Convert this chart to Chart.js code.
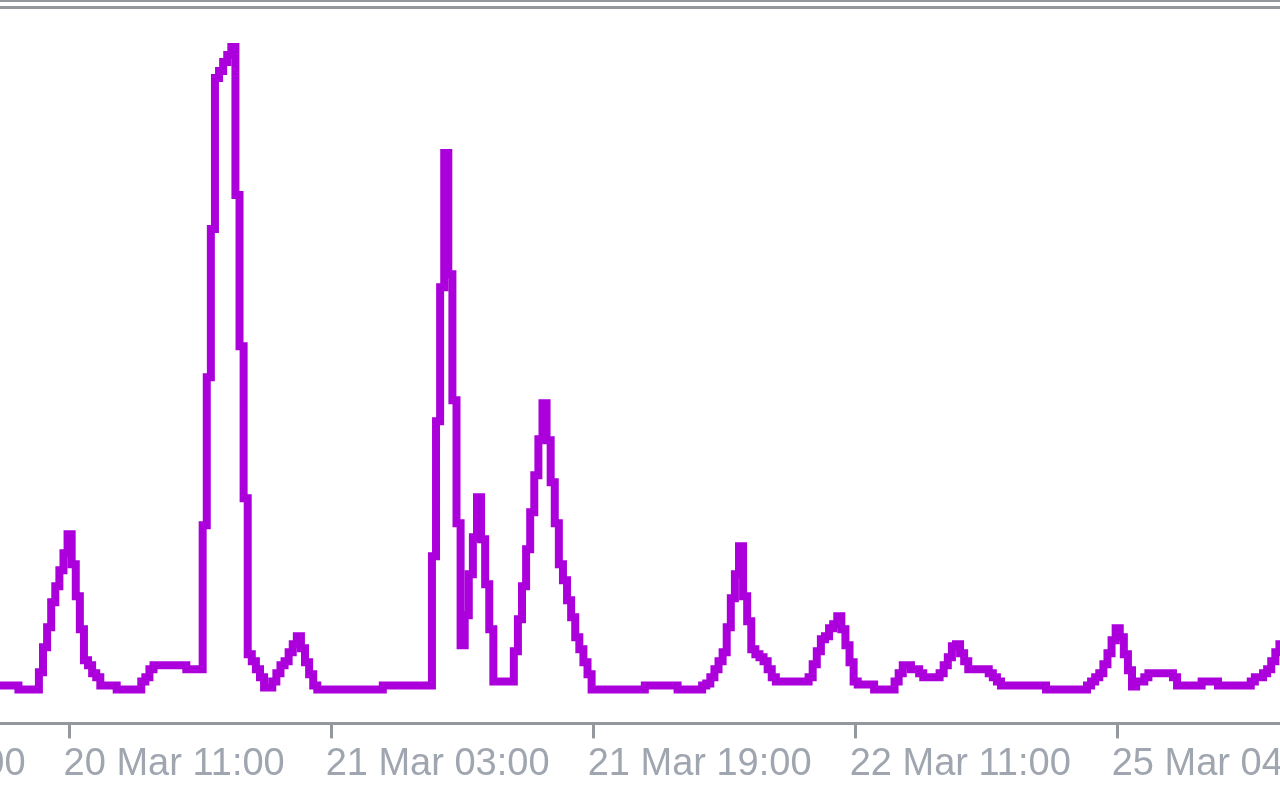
<!DOCTYPE html>
<html>
<head>
<meta charset="utf-8">
<script src="https://cdn.jsdelivr.net/npm/chart.js@4.4.1/dist/chart.umd.min.js"></script>
<style>
  html, body { margin: 0; padding: 0; background: #ffffff; }
  #frame { position: relative; width: 1280px; height: 800px; overflow: hidden; background: #ffffff; }
  #topline1 { position: absolute; left: 0; top: 0; width: 1280px; height: 2px; background: #94979c; }
  #topline2 { position: absolute; left: 0; top: 6px; width: 1280px; height: 3px; background: #94979c; }
  #wrap { position: absolute; left: -300px; top: 0; width: 1880px; height: 800px; }
</style>
</head>
<body>
<div id="frame">
  <div id="topline1"></div>
  <div id="topline2"></div>
  <div id="wrap"><canvas id="c" width="1880" height="800"></canvas></div>
</div>
<script>
// Indicator values, one per 15-minute bar (bar 0 = left edge of the view)
const values = [
  3.8,3.8,3.8,3.8,3.8,3.4,3.4,3.4,3.4,3.4,
  5.1,7.6,9.6,12.1,13.7,15.3,17.0,18.9,15.9,12.7,
  9.4,6.3,5.8,5.0,4.6,3.8,3.8,3.8,3.8,3.4,
  3.4,3.4,3.4,3.4,3.4,4.2,4.6,5.4,5.8,5.8,
  5.8,5.8,5.8,5.8,5.8,5.8,5.4,5.4,5.4,5.4,
  19.8,34.6,49.4,64.5,65.2,66.1,66.8,67.6,52.8,37.7,
  22.5,6.9,6.2,5.4,4.6,3.6,3.6,4.2,5.0,5.8,
  6.2,7.1,7.9,8.7,7.5,6.1,4.9,3.8,3.4,3.4,
  3.4,3.4,3.4,3.4,3.4,3.4,3.4,3.4,3.4,3.4,
  3.4,3.4,3.4,3.4,3.8,3.8,3.8,3.8,3.8,3.8,
  3.8,3.8,3.8,3.8,3.8,3.8,16.7,30.2,43.6,57.0,
  44.9,32.3,20.0,7.8,10.8,14.9,18.6,22.6,18.4,13.9,
  9.4,4.2,4.2,4.2,4.2,4.2,7.2,10.4,13.7,17.4,
  21.1,24.8,28.4,32.0,28.3,24.1,20.0,15.9,14.3,12.3,
  10.6,8.6,7.4,6.1,4.9,3.4,3.4,3.4,3.4,3.4,
  3.4,3.4,3.4,3.4,3.4,3.4,3.4,3.4,3.8,3.8,
  3.8,3.8,3.8,3.8,3.8,3.8,3.4,3.4,3.4,3.4,
  3.4,3.4,3.8,4.0,4.6,5.4,6.2,7.1,9.6,12.5,
  14.9,17.7,12.7,10.2,7.4,6.9,6.6,6.2,5.4,4.6,
  4.2,4.2,4.2,4.2,4.2,4.2,4.2,4.2,4.6,5.9,
  7.2,8.4,8.7,9.5,9.9,10.7,9.4,7.8,6.1,4.2,
  3.9,3.9,3.9,3.9,3.4,3.4,3.4,3.4,3.4,4.2,
  5.0,5.8,5.8,5.4,5.4,5.0,4.6,4.6,4.6,4.6,
  5.0,5.8,6.6,7.7,7.9,7.0,6.2,5.4,5.4,5.4,
  5.4,5.4,5.0,4.6,4.2,3.8,3.8,3.8,3.8,3.8,
  3.8,3.8,3.8,3.8,3.8,3.8,3.4,3.4,3.4,3.4,
  3.4,3.4,3.4,3.4,3.4,3.4,3.8,4.2,4.6,5.0,
  5.9,7.0,8.3,9.5,8.6,6.9,5.3,3.7,4.2,4.2,
  4.6,5.0,5.0,5.0,5.0,5.0,5.0,4.6,3.8,3.8,
  3.8,3.8,3.8,3.8,4.2,4.2,4.2,4.2,3.8,3.8,
  3.8,3.8,3.8,3.8,3.8,3.8,4.2,4.6,4.6,5.0,
  5.4,6.2,7.1,7.9
];

// Time-axis ticks (bar positions) and their labels
const tickBars   = [-47, 17, 81, 145, 209, 273];
const tickLabels = ["19 Mar 19:00", "20 Mar 11:00", "21 Mar 03:00", "21 Mar 19:00", "22 Mar 11:00", "25 Mar 04:00"];

const points = values.map((v, i) => ({ x: i, y: v }));
const axisGray = '#94979c';

new Chart(document.getElementById('c'), {
  type: 'line',
  data: {
    datasets: [{
      data: points,
      borderColor: '#ab00db',
      borderWidth: 8,
      borderJoinStyle: 'miter',
      borderCapStyle: 'butt',
      stepped: 'middle',
      pointRadius: 0,
      pointHoverRadius: 0,
      tension: 0,
      fill: false
    }]
  },
  options: {
    responsive: false,
    animation: false,
    events: [],
    layout: { padding: { top: 10, bottom: 10, left: 0, right: 0 } },
    plugins: { legend: { display: false }, tooltip: { enabled: false } },
    scales: {
      x: {
        type: 'linear',
        min: -73.28,
        max: 385.92,
        afterBuildTicks: (axis) => { axis.ticks = tickBars.map(v => ({ value: v })); },
        grid: {
          drawOnChartArea: false,
          drawTicks: true,
          tickLength: 15,
          color: axisGray,
          lineWidth: 3
        },
        border: { display: true, color: axisGray, width: 3 },
        ticks: {
          autoSkip: false,
          maxRotation: 0,
          minRotation: 0,
          align: 'start',
          labelOffset: -6,
          padding: 3,
          color: '#a0a6b0',
          font: { family: '"Liberation Sans", Arial, sans-serif', size: 38, lineHeight: 1.2 },
          callback: (val) => {
            const k = tickBars.indexOf(val);
            return k >= 0 ? tickLabels[k] : '';
          }
        }
      },
      y: {
        display: false,
        min: 0,
        max: 71.3
      }
    }
  }
});
</script>
</body>
</html>
